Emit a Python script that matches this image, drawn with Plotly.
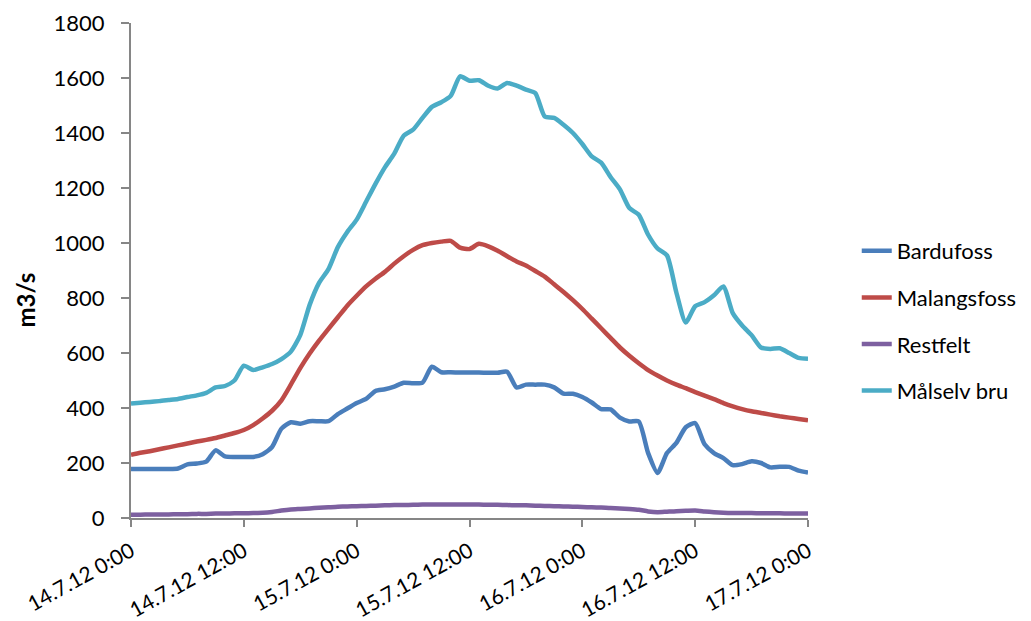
import plotly.graph_objects as go

# hours since 14.7.12 0:00
hours = list(range(0, 73))

tick_hours = [0, 12, 24, 36, 48, 60, 72]
tick_labels = ["14.7.12 0:00", "14.7.12 12:00", "15.7.12 0:00", "15.7.12 12:00",
               "16.7.12 0:00", "16.7.12 12:00", "17.7.12 0:00"]
y_ticks = [0, 200, 400, 600, 800, 1000, 1200, 1400, 1600, 1800]

bardufoss = [178, 178, 178, 178, 178, 180, 195, 198, 205, 246, 224, 222, 222, 222, 232,
             258, 325, 348, 343, 352, 352, 352, 378, 398, 418, 433, 462, 468, 478, 492,
             490, 492, 550, 530, 530, 529, 529, 529, 528, 528, 532, 475, 485, 485, 485,
             475, 452, 452, 440, 420, 396, 395, 365, 351, 351, 236, 164, 236, 273, 330,
             345, 268, 236, 218, 192, 196, 206, 200, 184, 186, 186, 172, 165]

malangsfoss = [230, 237, 243, 250, 257, 264, 271, 278, 284, 291, 300, 309, 320, 338, 362,
               390, 428, 485, 545, 598, 645, 688, 730, 772, 808, 842, 870, 895, 925, 952,
               975, 992, 1000, 1005, 1008, 983, 978, 997, 988, 972, 952, 933, 918, 898, 878,
               850, 822, 792, 760, 725, 690, 655, 620, 590, 563, 538, 518, 500, 485, 472,
               458, 445, 432, 418, 406, 396, 388, 382, 376, 370, 365, 360, 355]

restfelt = [12, 12, 13, 13, 13, 14, 14, 15, 15, 16, 16, 17, 17, 18, 19, 22, 27, 31, 33, 35,
            37, 39, 41, 42, 43, 44, 45, 46, 47, 47, 48, 49, 49, 49, 49, 49, 49, 49, 48, 48,
            47, 46, 46, 45, 44, 43, 42, 41, 40, 39, 38, 36, 35, 33, 30, 24, 21, 23, 25, 26,
            27, 24, 21, 19, 18, 18, 18, 17, 17, 17, 16, 16, 16]

malselv_bru = [416, 419, 422, 425, 429, 433, 440, 446, 455, 475, 480, 500, 554, 538, 548,
               560, 578, 605, 665, 775, 855, 905, 985, 1040, 1085, 1150, 1215, 1275, 1325,
               1390, 1412, 1455, 1495, 1512, 1535, 1606, 1590, 1592, 1572, 1562, 1582, 1572,
               1558, 1545, 1460, 1455, 1430, 1400, 1360, 1315, 1292, 1240, 1195, 1127, 1103,
               1030, 980, 955, 820, 711, 770, 785, 810, 842, 745, 700, 665, 620, 615, 617,
               600, 582, 579]

series = [
    ("Bardufoss", bardufoss, "#4A7EBB"),
    ("Malangsfoss", malangsfoss, "#BE4B48"),
    ("Restfelt", restfelt, "#7D60A0"),
    ("Målselv bru", malselv_bru, "#4BACC6"),
]

FONT = "Lato"

fig = go.Figure()
for name, vals, color in series:
    fig.add_trace(go.Scatter(
        x=hours, y=vals, name=name, mode="lines", legendgroup=name,
        line=dict(color=color, width=4.5, shape="spline", smoothing=0.6),
    ))

fig.update_layout(
    width=1023, height=613,
    margin=dict(l=123, r=223, t=15, b=103, autoexpand=False),
    plot_bgcolor="white", paper_bgcolor="white",
    font=dict(family=FONT, size=22, color="#000000"),
    showlegend=True,
    legend=dict(x=1.072, y=0.398, xanchor="left", yanchor="middle",
                font=dict(family=FONT, size=22, color="#000000"),
                tracegroupgap=15, bgcolor="rgba(0,0,0,0)"),
    xaxis=dict(range=[0, 72], tickvals=tick_hours, ticktext=tick_labels,
               tickangle=-29, showgrid=False, zeroline=False,
               showline=True, linecolor="#868686", linewidth=2,
               ticks="outside", ticklen=7, tickcolor="#868686", tickwidth=2,
               ticklabelstandoff=4,
               tickfont=dict(family=FONT, size=21)),
    yaxis=dict(range=[0, 1800], tickvals=y_ticks, showgrid=False, zeroline=False,
               showline=True, linecolor="#868686", linewidth=2,
               ticks="outside", ticklen=8, tickcolor="#868686", tickwidth=2,
               ticklabelstandoff=12,
               tickfont=dict(family=FONT, size=22)),
    annotations=[dict(text="<b>m3/s</b>", textangle=-90, xref="paper", yref="paper",
                      x=-0.156, y=0.440, xanchor="center", yanchor="middle",
                      showarrow=False, font=dict(family=FONT, size=24))],
)

fig.write_html("out.html")
